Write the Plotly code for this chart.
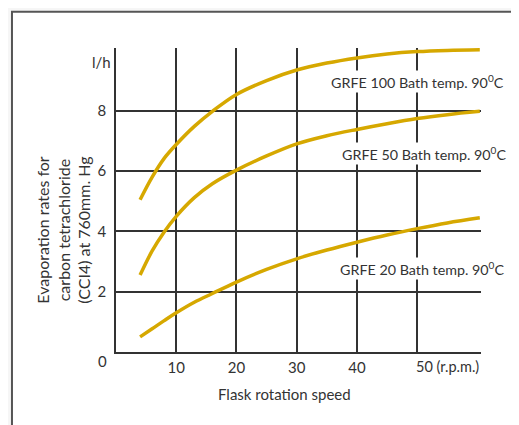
import plotly.graph_objects as go

# Data
speed = [4, 6, 8, 10, 13, 16, 20, 25, 30, 35, 40, 45, 50, 55, 60.4]
grfe100 = [5.05, 5.8, 6.42, 6.88, 7.48, 7.98, 8.54, 9.0, 9.35, 9.58, 9.75, 9.88, 9.96, 10.0, 10.02]
grfe50 = [2.55, 3.35, 3.98, 4.5, 5.12, 5.58, 6.03, 6.5, 6.9, 7.17, 7.38, 7.57, 7.74, 7.87, 7.98]
grfe20 = [0.5, 0.77, 1.04, 1.3, 1.65, 1.94, 2.32, 2.74, 3.09, 3.38, 3.64, 3.88, 4.09, 4.28, 4.45]

series_names = ["GRFE 100 Bath temp. 90<sup>0</sup>C",
                "GRFE 50 Bath temp. 90<sup>0</sup>C",
                "GRFE 20 Bath temp. 90<sup>0</sup>C"]
label_x = [35.4, 37.2, 36.9]
label_y = [8.97, 6.58, 2.76]

x_ticks = [10, 20, 30, 40]
y_ticks = [2, 4, 6, 8]

FONT = "Lato"
TXT = "#333333"
GRID = "#333333"
GOLD = "#D6A800"

fig = go.Figure()
for ys in (grfe100, grfe50, grfe20):
    fig.add_trace(go.Scatter(x=speed, y=ys, mode="lines",
                             line=dict(color=GOLD, width=3.5, shape="spline", smoothing=1.0),
                             showlegend=False, hoverinfo="skip"))

for name, lx, ly in zip(series_names, label_x, label_y):
    fig.add_annotation(x=lx, y=ly, text=name, showarrow=False, xanchor="left", yanchor="middle",
                       bgcolor="white", borderpad=1,
                       font=dict(family=FONT, size=14.3, color=TXT))

fig.add_annotation(xref="x", yref="paper", x=50, y=0, text="50 (r.p.m.)", showarrow=False,
                   xanchor="left", yanchor="top", xshift=-3, yshift=-4,
                   font=dict(family=FONT, size=14.5, color=TXT))
fig.add_annotation(xref="paper", yref="y", x=0, y=0, text="0", showarrow=False,
                   xanchor="right", yanchor="middle", xshift=-7, yshift=-9,
                   font=dict(family=FONT, size=15, color=TXT))
fig.add_annotation(xref="paper", yref="y", x=0, y=9.6, text="l/h", showarrow=False,
                   xanchor="right", yanchor="middle", xshift=-3,
                   font=dict(family=FONT, size=15, color=TXT))
fig.add_annotation(xref="paper", yref="paper", x=0.463, y=-0.139, text="Flask rotation speed",
                   showarrow=False, xanchor="center", yanchor="middle",
                   font=dict(family=FONT, size=15, color=TXT))
fig.add_annotation(xref="paper", yref="paper", x=-0.1445, y=0.403,
                   text="Evaporation rates for<br>carbon tetrachloride<br>(CCI4) at 760mm. Hg",
                   showarrow=False, textangle=-90, xanchor="center", yanchor="middle",
                   font=dict(family=FONT, size=16, color=TXT))

# outer frame
fig.add_shape(type="rect", xref="paper", yref="paper", x0=-0.285, y0=-0.3, x1=1.2, y1=1.119,
              line=dict(color="#555555", width=2), fillcolor="white", layer="below")

fig.update_xaxes(range=[0, 60.6], tickvals=x_ticks + [50], ticktext=[str(t) for t in x_ticks] + [""],
                 showgrid=True, gridcolor=GRID, gridwidth=1.5,
                 showline=True, linecolor=GRID, linewidth=1.5, zeroline=False,
                 ticks="outside", ticklen=1, tickcolor="rgba(0,0,0,0)",
                 tickfont=dict(family=FONT, size=15, color=TXT))
fig.update_yaxes(range=[0, 10.08], tickvals=y_ticks, showgrid=True, gridcolor=GRID, gridwidth=1.5,
                 showline=True, linecolor=GRID, linewidth=1.5, zeroline=False,
                 ticks="outside", ticklen=5, tickcolor="rgba(0,0,0,0)",
                 tickfont=dict(family=FONT, size=15, color=TXT))

fig.update_layout(width=511, height=417, margin=dict(l=108, r=38, t=40, b=73, autoexpand=False),
                  paper_bgcolor="#f6f6f6", plot_bgcolor="rgba(0,0,0,0)", showlegend=False)

fig.write_html("out.html")
